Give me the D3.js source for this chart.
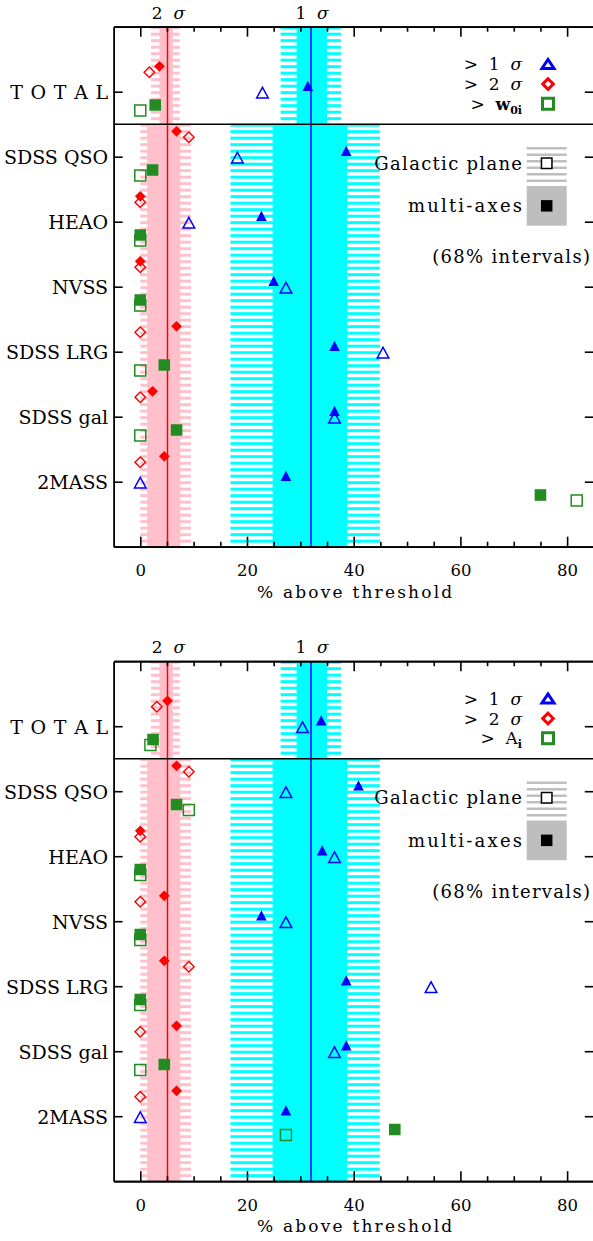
<!DOCTYPE html>
<html><head><meta charset="utf-8">
<script src="https://cdn.jsdelivr.net/npm/d3@7/dist/d3.min.js"></script>
<style>
body{margin:0;background:#fff}
svg{display:block}
text{font-family:"DejaVu Serif",serif;fill:#000;white-space:pre}
</style>
</head><body><div id="chart"></div>
<script>
// ---------- data ----------
const categories = ["TOTAL","SDSS QSO","HEAO","NVSS","SDSS LRG","SDSS gal","2MASS"];
const categoryLabels = ["T O T A L","SDSS QSO","HEAO","NVSS","SDSS LRG","SDSS gal","2MASS"];
const xTicksMajor = [0,20,40,60,80];
const xTicksMinor = [5,10,15,25,30,35,45,50,55,65,70,75];

// threshold lines (% above threshold)
const sig2Line = 5.1;
const sig1Line = 32.0;
// 68% intervals: TOTAL row and individual catalogues
const sig2HatchTotal = [2.0, 7.4];
const sig2SolidTotal = [3.6, 6.1];
const sig1HatchTotal = [26.3, 37.6];
const sig1SolidTotal = [29.3, 35.0];
const sig2HatchCat = [0.0, 9.5];
const sig2SolidCat = [1.3, 7.5];
const sig1HatchCat = [16.9, 44.9];
const sig1SolidCat = [24.8, 38.8];

// upper panel (threshold w0i)
const top1SigGal   = [22.9, 18.2, 9.1, 27.3, 45.5, 36.4, 0.0];
const top1SigMulti = [31.4, 38.6, 22.7, 25.0, 36.4, 36.4, 27.3];
const top2SigGal   = [1.7, 9.1, 0.0, 0.0, 0.0, 0.0, 0.0];
const top2SigMulti = [3.6, 6.8, 0.0, 0.0, 6.8, 2.3, 4.5];
const topThrGal    = [0.0, 0.0, 0.0, 0.0, 0.0, 0.0, 81.8];
const topThrMulti  = [2.8, 2.3, 0.0, 0.0, 4.5, 6.8, 75.0];

// lower panel (threshold A_i)
const bot1SigGal   = [30.4, 27.3, 36.4, 27.3, 54.5, 36.4, 0.0];
const bot1SigMulti = [33.9, 40.9, 34.1, 22.7, 38.6, 38.6, 27.3];
const bot2SigGal   = [3.1, 9.1, 0.0, 0.0, 9.1, 0.0, 0.0];
const bot2SigMulti = [5.1, 6.8, 0.0, 4.5, 4.5, 6.8, 6.8];
const botThrGal    = [1.9, 9.1, 0.0, 0.0, 0.0, 0.0, 27.3];
const botThrMulti  = [2.4, 6.8, 0.0, 0.0, 0.0, 4.5, 47.7];

// ---------- drawing ----------
const W = 593, H = 1241;
const X0 = 113.6, X1 = 593.8, PH = 520;
const BLUE = "#0000ff", RED = "#ff0000", GREEN = "#228b22", PINK = "#ffc0cb", CYAN = "#00ffff", GRAY = "#bebebe";

const svg = d3.select("#chart").append("svg").attr("width", W).attr("height", H);

const panels = [
  {top: 26.7, s1g: top1SigGal, s1m: top1SigMulti, s2g: top2SigGal, s2m: top2SigMulti, tg: topThrGal, tm: topThrMulti, thr: "w", sub: "0i", bold: true},
  {top: 661.2, s1g: bot1SigGal, s1m: bot1SigMulti, s2g: bot2SigGal, s2m: bot2SigMulti, tg: botThrGal, tm: botThrMulti, thr: "A", sub: "i", bold: false}
];

function triPath(cx, cy, hw, h) {
  return `M${cx - hw},${cy + h / 2}L${cx + hw},${cy + h / 2}L${cx},${cy - h / 2}Z`;
}
function diaPath(cx, cy, r) {
  return `M${cx},${cy - r}L${cx + r},${cy}L${cx},${cy + r}L${cx - r},${cy}Z`;
}
function sqPath(cx, cy, s) {
  return `M${cx - s / 2},${cy - s / 2}h${s}v${s}h${-s}Z`;
}

panels.forEach((p, pi) => {
  const x = d3.scaleLinear().domain([-5, 85]).range([X0, X1]);
  const y = d3.scaleLinear().domain([0, 8]).range([p.top, p.top + PH]);
  const g = svg.append("g");
  const clipId = "clip" + pi;
  g.append("clipPath").attr("id", clipId).append("rect")
    .attr("x", X0).attr("y", p.top).attr("width", X1 - X0).attr("height", PH);
  const bg = g.append("g").attr("clip-path", `url(#${clipId})`);

  function hatch(rng, yr, color) {
    const vs = d3.range(yr[0] + 0.015, yr[1], 0.1);
    bg.append("g").selectAll("rect").data(vs).enter().append("rect")
      .attr("x", x(rng[0])).attr("width", x(rng[1]) - x(rng[0]))
      .attr("y", v => y(v) - 1.5).attr("height", 3).attr("fill", color);
  }
  function solid(rng, yr, color) {
    bg.append("rect").attr("x", x(rng[0])).attr("width", x(rng[1]) - x(rng[0]))
      .attr("y", y(yr[0])).attr("height", y(yr[1]) - y(yr[0])).attr("fill", color);
  }
  const totR = [0, 1.5], catR = [1.5, 8];
  hatch(sig2HatchTotal, totR, PINK);
  hatch(sig1HatchTotal, totR, CYAN);
  hatch(sig2HatchCat, catR, PINK);
  hatch(sig1HatchCat, catR, CYAN);
  solid(sig2SolidTotal, totR, PINK);
  solid(sig1SolidTotal, totR, CYAN);
  solid(sig2SolidCat, catR, PINK);
  solid(sig1SolidCat, catR, CYAN);

  // threshold lines
  bg.append("line").attr("x1", x(sig2Line)).attr("x2", x(sig2Line)).attr("y1", y(0)).attr("y2", y(8))
    .attr("stroke", RED).attr("stroke-width", 1.5);
  bg.append("line").attr("x1", x(sig1Line)).attr("x2", x(sig1Line)).attr("y1", y(0)).attr("y2", y(8))
    .attr("stroke", BLUE).attr("stroke-width", 1.5);

  // separator
  g.append("line").attr("x1", X0).attr("x2", X1).attr("y1", y(1.5)).attr("y2", y(1.5))
    .attr("stroke", "#000").attr("stroke-width", 1.4);

  // markers
  const idx = d3.range(categories.length);
  const mk = bg.append("g");
  mk.selectAll(null).data(idx).enter().append("path")
    .attr("d", i => diaPath(x(p.s2g[i]), y(i + 1 - 0.3), 5.3))
    .attr("fill", "none").attr("stroke", RED).attr("stroke-width", 1.4);
  mk.selectAll(null).data(idx).enter().append("path")
    .attr("d", i => diaPath(x(p.s2m[i]), y(i + 1 - 0.39), 5.4))
    .attr("fill", RED);
  mk.selectAll(null).data(idx).enter().append("path")
    .attr("d", i => triPath(x(p.s1g[i]), y(i + 1 + 0.015), 5.8, 10.5))
    .attr("fill", "none").attr("stroke", BLUE).attr("stroke-width", 1.5);
  mk.selectAll(null).data(idx).enter().append("path")
    .attr("d", i => triPath(x(p.s1m[i]), y(i + 1 - 0.09), 5.3, 10.2))
    .attr("fill", BLUE);
  mk.selectAll(null).data(idx).enter().append("path")
    .attr("d", i => sqPath(x(p.tg[i]), y(i + 1 + 0.29), 11))
    .attr("fill", "none").attr("stroke", GREEN).attr("stroke-width", 1.5);
  mk.selectAll(null).data(idx).enter().append("path")
    .attr("d", i => sqPath(x(p.tm[i]), y(i + 1 + 0.205), 11.6))
    .attr("fill", GREEN);

  // axes
  const yb = y(8), yt = y(0);
  function styleAxis(sel) {
    sel.select(".domain").attr("stroke-width", 1.8);
    sel.selectAll(".tick line").attr("stroke-width", 1.6);
    sel.selectAll("text").attr("font-family", "DejaVu Serif").attr("fill", "#000");
  }
  const bMaj = g.append("g").attr("transform", `translate(0,${yb})`)
    .call(d3.axisBottom(x).tickValues(xTicksMajor).tickSizeInner(-10).tickSizeOuter(0).tickPadding(18));
  bMaj.selectAll("text").attr("font-size", 16.5);
  styleAxis(bMaj);
  g.append("g").attr("transform", `translate(0,${yb})`)
    .call(d3.axisBottom(x).tickValues(xTicksMinor).tickSizeInner(-5).tickSizeOuter(0).tickFormat(""))
    .call(styleAxis);
  g.append("g").attr("transform", `translate(0,${yt})`)
    .call(d3.axisTop(x).tickValues(xTicksMajor).tickSizeInner(-10).tickSizeOuter(0).tickFormat(""))
    .call(styleAxis);
  g.append("g").attr("transform", `translate(0,${yt})`)
    .call(d3.axisTop(x).tickValues(xTicksMinor).tickSizeInner(-5).tickSizeOuter(0).tickFormat(""))
    .call(styleAxis);
  const lAx = g.append("g").attr("transform", `translate(${X0},0)`)
    .call(d3.axisLeft(y).tickValues(d3.range(1, 8)).tickFormat(i => categoryLabels[i - 1])
      .tickSizeInner(-9).tickSizeOuter(0).tickPadding(5.5));
  lAx.selectAll("text").attr("font-size", 19).attr("dy", "0.36em");
  lAx.selectAll("text").filter(t => t === 1).attr("letter-spacing", 0.8).attr("dx", 0.8);
  styleAxis(lAx);
  g.append("g").attr("transform", `translate(${X1},0)`)
    .call(d3.axisRight(y).tickValues(d3.range(1, 8)).tickSizeInner(-9).tickSizeOuter(0).tickFormat(""))
    .call(styleAxis);

  // axis title
  g.append("text").attr("x", (X0 + X1) / 2 + 2).attr("y", yb + 51)
    .attr("text-anchor", "middle").attr("font-size", 17).attr("letter-spacing", 2.2)
    .text("% above threshold");

  // sigma labels on top
  [[sig2Line, "2"], [sig1Line, "1"]].forEach(([v, t]) => {
    const tx = g.append("text").attr("x", x(v) + 1).attr("y", yt - 8)
      .attr("text-anchor", "middle").attr("font-size", 17);
    tx.append("tspan").text(t + "  ");
    tx.append("tspan").attr("font-style", "italic").text("\u03c3");
  });

  // legend: thresholds
  const lx = 522, sx = 548;
  const rows = [
    {dy: 37.3, kind: "tri", color: BLUE, n: "1"},
    {dy: 57.3, kind: "dia", color: RED, n: "2"},
    {dy: 77.0, kind: "sq", color: GREEN}
  ];
  rows.forEach(r => {
    const cy = p.top + r.dy;
    const t = g.append("text").attr("x", lx).attr("y", cy + 6).attr("text-anchor", "end").attr("font-size", 17);
    if (r.n) {
      t.append("tspan").text(">  " + r.n + "  ");
      t.append("tspan").attr("font-style", "italic").text("\u03c3");
    } else {
      t.append("tspan").text(">  ");
      t.append("tspan").attr("font-weight", p.bold ? "bold" : "normal").text(p.thr);
      t.append("tspan").attr("font-size", 11).attr("font-weight", "bold").attr("dy", 4).text(p.sub);
    }
    let d;
    if (r.kind === "tri") d = triPath(sx, cy, 6, 9);
    else if (r.kind === "dia") d = diaPath(sx, cy, 5.3);
    else d = sqPath(sx, cy, 11);
    g.append("path").attr("d", d).attr("fill", "none").attr("stroke", r.color).attr("stroke-width", 3);
  });

  // legend: Galactic plane / multi-axes
  const bx = 526.7, bw = 40;
  const gpTop = p.top + 119.3, gpH = 34.7;
  g.append("g").selectAll("rect").data(d3.range(0, 6)).enter().append("rect")
    .attr("x", bx).attr("width", bw).attr("y", k => gpTop + 1 + k * 6.5).attr("height", 2.5).attr("fill", GRAY);
  g.append("path").attr("d", sqPath(bx + bw / 2, gpTop + gpH / 2, 10.5)).attr("fill", "#fff")
    .attr("stroke", "#000").attr("stroke-width", 1.5);
  g.append("text").attr("x", lx + 1.3).attr("y", gpTop + gpH / 2 + 6.5).attr("text-anchor", "end")
    .attr("font-size", 18).attr("letter-spacing", 1.3).text("Galactic plane");
  const maTop = p.top + 159.3, maH = 39.7;
  g.append("rect").attr("x", bx).attr("width", bw).attr("y", maTop).attr("height", maH).attr("fill", GRAY);
  g.append("path").attr("d", sqPath(bx + bw / 2, maTop + maH / 2, 11.5)).attr("fill", "#000");
  g.append("text").attr("x", lx + 2.2).attr("y", maTop + maH / 2 + 6.5).attr("text-anchor", "end")
    .attr("font-size", 18).attr("letter-spacing", 2.2).text("multi-axes");
  g.append("text").attr("x", 591.3).attr("y", p.top + 236.5).attr("text-anchor", "end")
    .attr("font-size", 18).attr("letter-spacing", 1.3).text("(68% intervals)");
});
</script>
</body></html>
